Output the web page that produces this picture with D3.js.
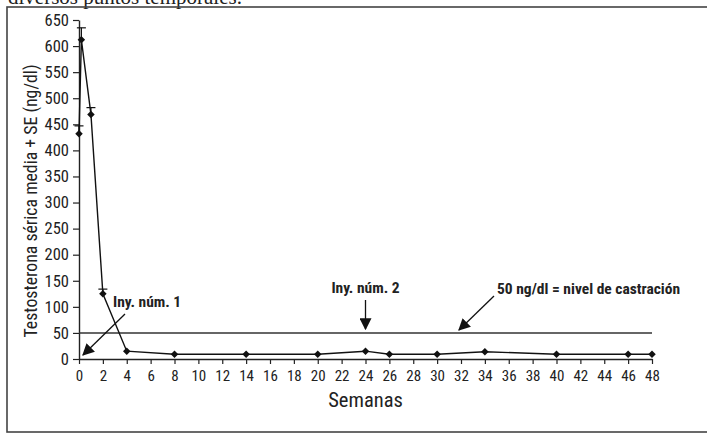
<!DOCTYPE html>
<html>
<head>
<meta charset="utf-8">
<script src="https://cdn.jsdelivr.net/npm/d3@7"></script>
<style>
  body { margin: 0; background: #fff; }
  svg text { fill: #222; }
  .narrow { font-family: "Liberation Sans Narrow", "Arial Narrow", "Roboto Condensed", Arial, sans-serif; }
</style>
</head>
<body>
<div id="chart"></div>
<script>
// data
const weeks = [0, 0.2, 1, 2, 4, 8, 14, 20, 24, 26, 30, 34, 40, 46, 48];
const means = [432, 612, 469, 125, 15, 9, 9, 9, 15, 9, 9, 14, 9, 9, 9];
const errors = [15, 23, 13, 9, 0, 0, 0, 0, 0, 0, 0, 0, 0, 0, 0];
const xTicks = d3.range(0, 49, 2);
const yTicks = d3.range(0, 651, 50);
const castrationLevel = 50;

const width = 707, height = 434;
const margin = {left: 79, right: 55, top: 20, bottom: 75};

const svg = d3.select('#chart').append('svg')
  .attr('width', width)
  .attr('height', height);

// caption text cut off at the top
svg.append('text')
  .attr('x', 8).attr('y', 4)
  .style('font-family', '"Liberation Serif", "Times New Roman", serif')
  .style('font-size', '21px')
  .text('diversos puntos temporales.');

// frame
svg.append('rect')
  .attr('x', 7).attr('y', 7)
  .attr('width', 740).attr('height', 425)
  .attr('fill', 'none')
  .attr('stroke', '#444')
  .attr('stroke-width', 1.6);

const g = svg.append('g')
  .attr('transform', `translate(${margin.left},${margin.top})`);

const innerW = width - margin.left - margin.right;
const innerH = height - margin.top - margin.bottom;

const x = d3.scaleLinear().domain([0, 48]).range([0, innerW]);
const y = d3.scaleLinear().domain([0, 650]).range([innerH, 0]);

// axes
const xAxis = g.append('g')
  .attr('class', 'narrow')
  .attr('transform', `translate(0,${innerH})`)
  .call(d3.axisBottom(x).tickValues(xTicks).tickSize(5).tickPadding(6).tickSizeOuter(0));

const yAxis = g.append('g')
  .attr('class', 'narrow')
  .call(d3.axisLeft(y).tickValues(yTicks).tickSize(6).tickPadding(4).tickSizeOuter(0));

[xAxis, yAxis].forEach(a => {
  a.select('.domain').attr('stroke', '#222').attr('stroke-width', 1.4);
  a.selectAll('.tick line').attr('stroke', '#222').attr('stroke-width', 1.2);
  a.selectAll('.tick text').style('font-size', '15px').attr('fill', '#222');
});
yAxis.selectAll('.tick text').style('font-size', '16.5px');

// castration level reference line
g.append('line')
  .attr('x1', x(0)).attr('x2', x(48))
  .attr('y1', y(castrationLevel)).attr('y2', y(castrationLevel))
  .attr('stroke', '#333')
  .attr('stroke-width', 1.5);

const pts = weeks.map((w, i) => ({w, m: means[i], e: errors[i]}));

// error bars
const eb = g.selectAll('.err').data(pts.filter(d => d.e > 0)).join('g').attr('class', 'err');
eb.append('line')
  .attr('x1', d => x(d.w)).attr('x2', d => x(d.w))
  .attr('y1', d => y(d.m)).attr('y2', d => y(d.m + d.e))
  .attr('stroke', '#111').attr('stroke-width', 1.2);
eb.append('line')
  .attr('x1', d => x(d.w) - 4.5).attr('x2', d => x(d.w) + 4.5)
  .attr('y1', d => y(d.m + d.e)).attr('y2', d => y(d.m + d.e))
  .attr('stroke', '#111').attr('stroke-width', 1.2);

// series line
g.append('path')
  .datum(pts)
  .attr('fill', 'none')
  .attr('stroke', '#111')
  .attr('stroke-width', 1.4)
  .attr('d', d3.line().x(d => x(d.w)).y(d => y(d.m)));

// diamond markers
g.selectAll('.pt').data(pts).join('path')
  .attr('class', 'pt')
  .attr('transform', d => `translate(${x(d.w)},${y(d.m)})`)
  .attr('d', d3.symbol(d3.symbolDiamond2, 36)())
  .attr('fill', '#111');

// arrow marker
svg.append('defs').append('marker')
  .attr('id', 'arrow')
  .attr('viewBox', '0 0 10 10')
  .attr('refX', 9).attr('refY', 5)
  .attr('markerWidth', 12).attr('markerHeight', 12)
  .attr('markerUnits', 'userSpaceOnUse')
  .attr('orient', 'auto')
  .append('path')
  .attr('d', 'M0,0 L10,5 L0,10 z')
  .attr('fill', '#111');

// annotations
const notes = [
  {text: 'Iny. núm. 1', tx: 113, ty: 307, anchor: 'start', from: [125, 314], to: [83, 355]},
  {text: 'Iny. núm. 2', tx: x(24) + margin.left, ty: 293, anchor: 'middle', from: [x(24) + margin.left, 300], to: [x(24) + margin.left, 329]},
  {text: '50 ng/dl = nivel de castración', tx: 497, ty: 294, anchor: 'start', from: [494, 296], to: [459, 330]}
];

const ann = svg.selectAll('.note').data(notes).join('g').attr('class', 'note');
ann.append('text')
  .attr('class', 'narrow')
  .attr('x', d => d.tx).attr('y', d => d.ty)
  .attr('text-anchor', d => d.anchor)
  .style('font-size', '15.5px')
  .style('font-weight', 'bold')
  .text(d => d.text);
ann.append('line')
  .attr('x1', d => d.from[0]).attr('y1', d => d.from[1])
  .attr('x2', d => d.to[0]).attr('y2', d => d.to[1])
  .attr('stroke', '#111')
  .attr('stroke-width', 1.3)
  .attr('marker-end', 'url(#arrow)');

// axis titles
svg.append('text')
  .attr('class', 'narrow')
  .attr('x', margin.left + x(24)).attr('y', 407)
  .attr('text-anchor', 'middle')
  .style('font-size', '20.5px')
  .text('Semanas');

svg.append('text')
  .attr('class', 'narrow')
  .attr('transform', `translate(37,201) rotate(-90)`)
  .attr('text-anchor', 'middle')
  .style('font-size', '17.8px')
  .text('Testosterona sérica media + SE (ng/dl)');
</script>
</body>
</html>
